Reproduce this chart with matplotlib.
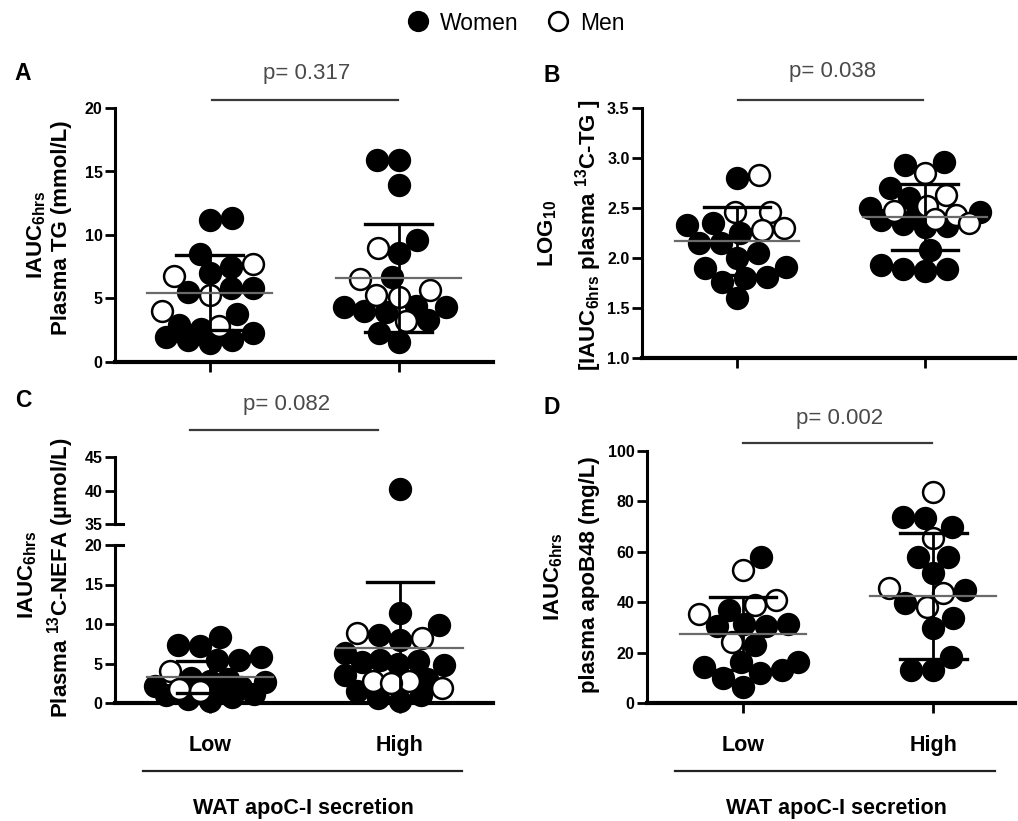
import numpy as np
import matplotlib
matplotlib.use("Agg")
import matplotlib.pyplot as plt
from matplotlib import font_manager as fm
from matplotlib.lines import Line2D

# ---------------- data ----------------
groups = ["Low", "High"]

A_low_women = [11.3, 11.2, 8.5, 7.5, 7.0, 5.8, 5.5, 5.8, 3.8, 2.9, 2.6, 2.3, 2.0, 1.7, 1.5, 1.7]
A_low_men = [7.7, 6.8, 5.3, 4.0, 2.8]
A_high_women = [15.9, 15.9, 13.9, 9.6, 8.6, 6.7, 4.3, 4.3, 4.4, 4.0, 3.9, 3.3, 2.3, 1.6]
A_high_men = [9.0, 6.5, 5.7, 5.1, 5.3, 3.2]
A_mean = [5.45, 6.65]
A_sd = [2.95, 4.25]

B_low_women = [2.80, 2.35, 2.33, 2.25, 2.15, 2.15, 2.05, 2.00, 1.91, 1.90, 1.81, 1.80, 1.76, 1.60]
B_low_men = [2.83, 2.46, 2.46, 2.30, 2.28]
B_high_women = [2.96, 2.93, 2.70, 2.60, 2.50, 2.46, 2.42, 2.38, 2.34, 2.32, 2.31, 2.08, 1.93, 1.89, 1.89, 1.87]
B_high_men = [2.85, 2.63, 2.52, 2.47, 2.43, 2.39, 2.35]
B_mean = [2.17, 2.41]
B_sd = [0.34, 0.33]

C_low_women = [8.4, 7.3, 7.2, 5.8, 5.5, 5.4, 3.2, 3.0, 2.8, 2.6, 2.2, 2.0, 1.5, 1.2, 1.0, 0.8, 0.5, 0.3]
C_low_men = [4.0, 1.8, 1.5]
C_high_women = [40.2, 11.4, 9.9, 8.6, 8.0, 6.3, 5.5, 5.3, 5.2, 5.0, 4.8, 3.5, 3.0, 1.5, 1.0, 0.6, 0.3]
C_high_men = [8.9, 8.2, 2.8, 2.8, 2.5, 1.9]
C_mean = [3.3, 6.9]
C_sd = [2.0, 8.4]

D_low_women = [58.0, 37.0, 31.5, 31.5, 30.5, 30.5, 23.0, 16.3, 16.3, 14.3, 13.1, 11.9, 9.9, 6.3]
D_low_men = [52.8, 40.8, 39.0, 35.5, 24.2]
D_high_women = [73.8, 73.4, 70.0, 58.0, 58.0, 51.6, 45.0, 39.7, 33.7, 29.8, 18.3, 13.1, 13.1]
D_high_men = [83.7, 65.4, 45.6, 43.7, 38.0]
D_mean = [27.5, 42.5]
D_sd = [14.5, 25.0]

p_labels = ["p= 0.317", "p= 0.038", "p= 0.082", "p= 0.002"]
panel_letters = ["A", "B", "C", "D"]
A_ticks = [0, 5, 10, 15, 20]
B_ticks = [1.0, 1.5, 2.0, 2.5, 3.0, 3.5]
C_ticks_low = [0, 5, 10, 15, 20]
C_ticks_up = [35, 40, 45]
D_ticks = [0, 20, 40, 60, 80, 100]
xlabel_text = "WAT apoC-I secretion"
legend_labels = ["Women", "Men"]

# ---------------- fonts ----------------
names = {f.name for f in fm.fontManager.ttflist}
base = "Liberation Sans Narrow" if "Liberation Sans Narrow" in names else "Liberation Sans"
plt.rcParams["font.family"] = [base, "DejaVu Sans"]
plt.rcParams["mathtext.fontset"] = "custom"
plt.rcParams["mathtext.rm"] = base
plt.rcParams["mathtext.bf"] = base + ":bold"
plt.rcParams["mathtext.it"] = base + ":italic"

W, H = 1018, 821
fig = plt.figure(figsize=(W / 100, H / 100), dpi=100)


def fx(px):
    return px / W


def fy(py):
    return 1 - py / H


def add_ax(x0, x1, ytop, ybot):
    return fig.add_axes([fx(x0), fy(ybot), fx(x1) - fx(x0), fy(ytop) - fy(ybot)])


MS = 15.0   # marker size (pt)
MEW = 1.8
DIAM_PX = (MS + MEW) * 100 / 72.0
TICK_FS = 11.5
LABEL_FS = 16


def style_ax(ax, ticks, fmt=None, bottom=True):
    for s in ["top", "right"]:
        ax.spines[s].set_visible(False)
    ax.spines["left"].set_linewidth(2.2)
    ax.spines["bottom"].set_linewidth(3.0)
    if not bottom:
        ax.spines["bottom"].set_visible(False)
    ax.set_yticks(ticks)
    if fmt:
        ax.set_yticklabels([fmt % t for t in ticks])
    ax.tick_params(axis="y", length=7, width=2, labelsize=TICK_FS, pad=2)
    for lab in ax.get_yticklabels():
        lab.set_fontweight("bold")
    ax.set_facecolor("none")


def swarm_x(ax, x0, vals, ratio=0.92, maxw=55):
    vals = np.asarray(vals, float)
    disp = ax.transData.transform(np.column_stack([np.full(len(vals), x0), vals]))
    order = np.argsort(vals)
    dmin = DIAM_PX * ratio
    cands = sorted(np.arange(-maxw, maxw + 1, 1.0), key=lambda d: (abs(d), d))
    placed = []
    xs = np.zeros(len(vals))
    k = 0
    for i in order:
        xc, yc = disp[i]
        sign = 1 if k % 2 else -1
        k += 1
        best, best_score = 0.0, -1.0
        for d in cands:
            dd = d * sign
            if placed:
                md = min(np.hypot(xc + dd - px, yc - py) for px, py in placed)
            else:
                md = 1e9
            if md >= dmin:
                best = dd
                break
            if md > best_score + 0.5:
                best_score, best = md, dd
        placed.append((xc + best, yc))
        xs[i] = ax.transData.inverted().transform((xc + best, yc))[0]
    return xs


def draw_points(ax, x0, women, men):
    vals = list(women) + list(men)
    sex = [1] * len(women) + [0] * len(men)
    xs = swarm_x(ax, x0, vals)
    for x, v, s in zip(xs, vals, sex):
        ax.plot(x, v, "o", ms=MS, mew=MEW, mec="black",
                mfc="black" if s else "white", clip_on=False, zorder=3)


def draw_stats(ax, x0, m, sd):
    ax.plot([x0, x0], [m - sd, m + sd], color="black", lw=2.0, zorder=4, solid_capstyle="butt")
    for yv in (m - sd, m + sd):
        ax.plot([x0 - 0.175, x0 + 0.175], [yv, yv], color="black", lw=2.4, zorder=4)
    ax.plot([x0 - 0.33, x0 + 0.33], [m, m], color="#6a6a6a", lw=1.6, zorder=5)


# ---------------- panel A ----------------
axA = add_ax(115, 493, 108, 362)
axA.set_xlim(-0.5, 1.5)
axA.set_ylim(0, 20)
style_ax(axA, A_ticks)
axA.set_xticks([0, 1])
axA.set_xticklabels(["", ""])
axA.tick_params(axis="x", length=7, width=2)
for i, (w, m_) in enumerate([(A_low_women, A_low_men), (A_high_women, A_high_men)]):
    draw_points(axA, i, w, m_)
    draw_stats(axA, i, A_mean[i], A_sd[i])

# ---------------- panel B ----------------
axB = add_ax(642, 1015, 108, 358)
axB.set_xlim(-0.505, 1.48)
axB.set_ylim(1.0, 3.5)
style_ax(axB, B_ticks, "%.1f")
axB.set_xticks([0, 1])
axB.set_xticklabels(["", ""])
axB.tick_params(axis="x", length=7, width=2)
for i, (w, m_) in enumerate([(B_low_women, B_low_men), (B_high_women, B_high_men)]):
    draw_points(axB, i, w, m_)
    draw_stats(axB, i, B_mean[i], B_sd[i])

# ---------------- panel C (broken axis) ----------------
axCu = add_ax(115, 493, 457, 524)
axC = add_ax(115, 493, 545, 703)
for ax in (axCu, axC):
    ax.set_xlim(-0.5, 1.49)
axCu.set_ylim(35, 45)
axC.set_ylim(0, 20)
style_ax(axCu, C_ticks_up, bottom=False)
axCu.set_xticks([])
style_ax(axC, C_ticks_low)
axC.set_xticks([0, 1])
axC.set_xticklabels(groups, fontsize=15.5, fontweight="bold")
axC.tick_params(axis="x", length=7, width=2, pad=16)
for ax, yv in ((axCu, 35), (axC, 20)):
    ax.add_line(Line2D([0, 0.022], [yv, yv], transform=ax.get_yaxis_transform(),
                       color="black", lw=2.2, clip_on=False))
for i, (w, m_) in enumerate([(C_low_women, C_low_men), (C_high_women, C_high_men)]):
    lo_w = [v for v in w if v <= 20]
    hi_w = [v for v in w if v > 20]
    lo_m = [v for v in m_ if v <= 20]
    hi_m = [v for v in m_ if v > 20]
    draw_points(axC, i, lo_w, lo_m)
    if hi_w or hi_m:
        draw_points(axCu, i, hi_w, hi_m)
    draw_stats(axC, i, C_mean[i], C_sd[i])

# ---------------- panel D ----------------
axD = add_ax(647, 1015, 451, 703)
axD.set_xlim(-0.505, 1.43)
axD.set_ylim(0, 100)
style_ax(axD, D_ticks)
axD.set_xticks([0, 1])
axD.set_xticklabels(groups, fontsize=15.5, fontweight="bold")
axD.tick_params(axis="x", length=7, width=2, pad=16)
for i, (w, m_) in enumerate([(D_low_women, D_low_men), (D_high_women, D_high_men)]):
    draw_points(axD, i, w, m_)
    draw_stats(axD, i, D_mean[i], D_sd[i])

# ---------------- p-value brackets ----------------
brackets = [((212, 398), 100, (307, 73)),
            ((738, 923), 100, (833, 72)),
            ((190, 378), 430, (287, 404)),
            ((743, 932), 443, (840, 418))]
for lab, ((x0, x1), yl, (tx, ty)) in zip(p_labels, brackets):
    fig.add_artist(Line2D([fx(x0), fx(x1)], [fy(yl), fy(yl)], transform=fig.transFigure,
                          color="#3a3a3a", lw=1.6))
    fig.text(fx(tx), fy(ty), lab, ha="center", va="center", fontsize=16, color="#4a4a4a")

# panel letters
for lab, (px, py) in zip(panel_letters, [(23, 73), (552, 75), (23, 400), (552, 407)]):
    fig.text(fx(px), fy(py), lab, ha="center", va="center", fontsize=16.5, fontweight="bold")

# ---------------- y labels ----------------
sub = r"IAUC$_{\mathregular{6hrs}}$"
ylabels = [
    (sub, 37, 235), ("Plasma TG (mmol/L)", 62, 228),
    (r"LOG$_{\mathregular{10}}$", 548, 233), (r"[IAUC$_{\mathregular{6hrs}}$ plasma $^{\mathregular{13}}$C-TG ]", 589, 235),
    (sub, 28, 575), (r"Plasma $^{\mathregular{13}}$C-NEFA (µmol/L)", 61, 578),
    (sub, 554, 577), ("plasma apoB48 (mg/L)", 590, 575),
]
for txt, px, py in ylabels:
    fig.text(fx(px), fy(py), txt, rotation=90, ha="center", va="center",
             fontsize=LABEL_FS, fontweight="bold")

# ---------------- group lines & x labels ----------------
for (x0, x1), tx in [((143, 462), 303), ((675, 995), 836)]:
    fig.add_artist(Line2D([fx(x0), fx(x1)], [fy(771), fy(771)], transform=fig.transFigure,
                          color="#222222", lw=1.6))
    fig.text(fx(tx), fy(808), xlabel_text, ha="center", va="center", fontsize=15.5, fontweight="bold")

# ---------------- legend ----------------
handles = [Line2D([], [], ls="", marker="o", ms=13.5, mew=1.8, mec="black", mfc="black"),
           Line2D([], [], ls="", marker="o", ms=13.5, mew=1.8, mec="black", mfc="white")]
fig.legend(handles, legend_labels, loc="center", bbox_to_anchor=(fx(515), fy(23)), ncol=2,
           frameon=False, fontsize=16.5, handletextpad=0.4, columnspacing=1.2,
           handlelength=1.1)

fig.savefig("out.png", dpi=100)
